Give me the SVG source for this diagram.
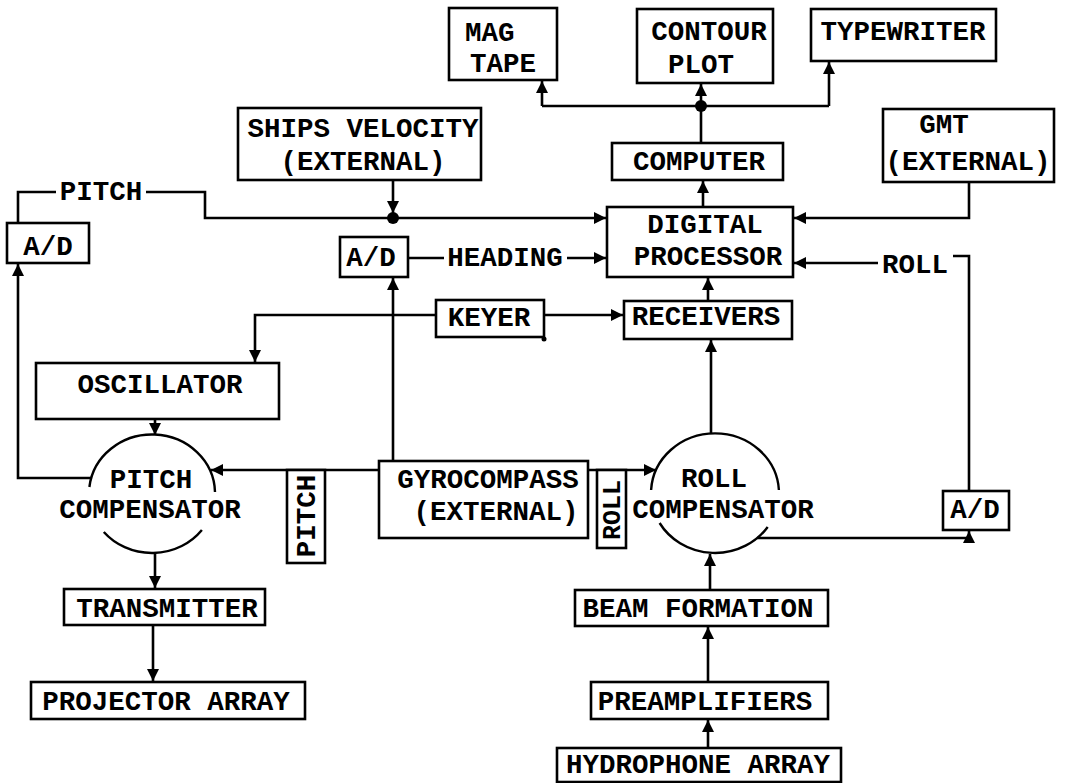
<svg xmlns="http://www.w3.org/2000/svg" width="1066" height="783" viewBox="0 0 1066 783">
<defs>
<marker id="ah" markerUnits="userSpaceOnUse" markerWidth="14" markerHeight="14" viewBox="0 0 14 14" refX="13" refY="7" orient="auto">
<path d="M1,1 L13,7 L1,13 Z" fill="#000"/>
</marker>
</defs>
<style>
rect.b{fill:#fff;stroke:#000;stroke-width:2.6}
path.c{fill:none;stroke:#000;stroke-width:2.6}
path.arc{fill:none;stroke:#000;stroke-width:2.4}
.a{marker-end:url(#ah)}
text{font-family:"Liberation Mono","DejaVu Sans Mono",monospace;font-weight:bold;font-size:27.5px;fill:#000;text-anchor:middle}
</style>
<rect width="1066" height="783" fill="#fff"/>

<g id="connectors">
<path class="c" d="M701 143 V106"/>
<path class="c" d="M542 106 H829"/>
<path class="c a" d="M542 106 V81"/>
<path class="c a" d="M829 106 V62"/>
<path class="c a" d="M701 106 V84"/>
<circle cx="701" cy="106" r="6" fill="#000"/>
<path class="c a" d="M703 207 V181"/>
<path class="c a" d="M969 182 V218 H794"/>
<path class="c" d="M18 223 V192 H56"/>
<path class="c a" d="M146 192 H205 V218 H606"/>
<path class="c a" d="M393 180 V213"/>
<circle cx="393" cy="218" r="6" fill="#000"/>
<path class="c" d="M408 258 H444"/>
<path class="c a" d="M567 258 H606"/>
<path class="c" d="M969 491 V256 H953"/>
<path class="c a" d="M878 263 H794"/>
<path class="c a" d="M708 301 V278"/>
<path class="c a" d="M436 315 H255 V362"/>
<path class="c a" d="M544 315 H623"/>
<circle cx="544" cy="339" r="2.5" fill="#000"/>
<path class="c a" d="M393 461 V278"/>
<path class="c a" d="M155 419 V435"/>
<path class="c a" d="M379 470 H211"/>
<path class="c a" d="M588 470 H656"/>
<path class="c a" d="M91 478 H18 V264"/>
<path class="c a" d="M711 433 V340"/>
<path class="c a" d="M757 538 H969 V531"/>
<path class="c a" d="M155 553 V588"/>
<path class="c a" d="M153 625 V681"/>
<path class="c a" d="M710 590 V554"/>
<path class="c a" d="M708 682 V627"/>
<path class="c a" d="M708 748 V720"/>
</g>

<g id="mag-tape"><rect class="b" x="449" y="8" width="108" height="72"/>
<text x="465" y="41" style="text-anchor:start">MAG</text><text x="470" y="72" style="text-anchor:start">TAPE</text></g>
<g id="contour-plot"><rect class="b" x="637" y="9" width="136" height="74"/>
<text x="709" y="40">CONTOUR</text><text x="701" y="73">PLOT</text></g>
<g id="typewriter"><rect class="b" x="811" y="9" width="185" height="52"/>
<text x="903" y="40">TYPEWRITER</text></g>
<g id="ships-velocity"><rect class="b" x="238" y="108" width="243" height="72"/>
<text x="363" y="137">SHIPS VELOCITY</text><text x="363" y="170">(EXTERNAL)</text></g>
<g id="computer"><rect class="b" x="612" y="143" width="171" height="37"/>
<text x="699" y="170">COMPUTER</text></g>
<g id="gmt"><rect class="b" x="883" y="109" width="171" height="73"/>
<text x="944" y="133">GMT</text><text x="968" y="170">(EXTERNAL)</text></g>
<g id="digital-processor"><rect class="b" x="607" y="207" width="186" height="70"/>
<text x="705" y="233">DIGITAL</text><text x="708" y="265">PROCESSOR</text></g>
<g id="pitch-label"><text x="101" y="200">PITCH</text></g>
<g id="heading-label"><text x="505" y="266">HEADING</text></g>
<g id="roll-label"><text x="915" y="273">ROLL</text></g>
<g id="ad-pitch"><rect class="b" x="7" y="223" width="82" height="40"/>
<text x="48" y="255">A/D</text></g>
<g id="ad-heading"><rect class="b" x="340" y="237" width="68" height="40"/>
<text x="371" y="266">A/D</text></g>
<g id="keyer"><rect class="b" x="436" y="300" width="108" height="37"/>
<text x="489" y="326">KEYER</text></g>
<g id="receivers"><rect class="b" x="624" y="301" width="168" height="38"/>
<text x="706" y="325">RECEIVERS</text></g>
<g id="oscillator"><rect class="b" x="36" y="363" width="243" height="56"/>
<text x="160" y="393">OSCILLATOR</text></g>
<g id="pitch-compensator">
<path class="arc" d="M89.4 487 A63 59 0 0 1 215 492"/>
<path class="arc" d="M103.8 532 A63 59 0 0 0 201.9 530"/>
<text x="151" y="488">PITCH</text><text x="150" y="518">COMPENSATOR</text></g>
<g id="gyrocompass"><rect class="b" x="379" y="461" width="209" height="77"/>
<text x="488" y="488">GYROCOMPASS</text><text x="496" y="520">(EXTERNAL)</text></g>
<g id="pitch-tag"><rect class="b" x="287" y="470" width="38" height="93"/>
<text transform="translate(315 516) rotate(-90)">PITCH</text></g>
<g id="roll-tag"><rect class="b" x="597" y="470" width="29" height="78"/>
<text transform="translate(620 510) rotate(-90)" style="font-size:25px">ROLL</text></g>
<g id="roll-compensator">
<path class="arc" d="M651.1 490 A64 60 0 0 1 778.9 490"/>
<path class="arc" d="M659.6 523 A64 60 0 0 0 767.7 527"/>
<text x="714" y="487">ROLL</text><text x="723" y="518">COMPENSATOR</text></g>
<g id="ad-roll"><rect class="b" x="943" y="491" width="66" height="39"/>
<text x="975" y="518">A/D</text></g>
<g id="transmitter"><rect class="b" x="64" y="589" width="201" height="36"/>
<text x="167" y="617">TRANSMITTER</text></g>
<g id="projector-array"><rect class="b" x="31" y="682" width="274" height="37"/>
<text x="166" y="710">PROJECTOR ARRAY</text></g>
<g id="beam-formation"><rect class="b" x="575" y="590" width="253" height="36"/>
<text x="698" y="617">BEAM FORMATION</text></g>
<g id="preamplifiers"><rect class="b" x="591" y="682" width="237" height="37"/>
<text x="705" y="710">PREAMPLIFIERS</text></g>
<g id="hydrophone-array"><rect class="b" x="557" y="748" width="284" height="34"/>
<text x="698" y="773">HYDROPHONE ARRAY</text></g>
</svg>
